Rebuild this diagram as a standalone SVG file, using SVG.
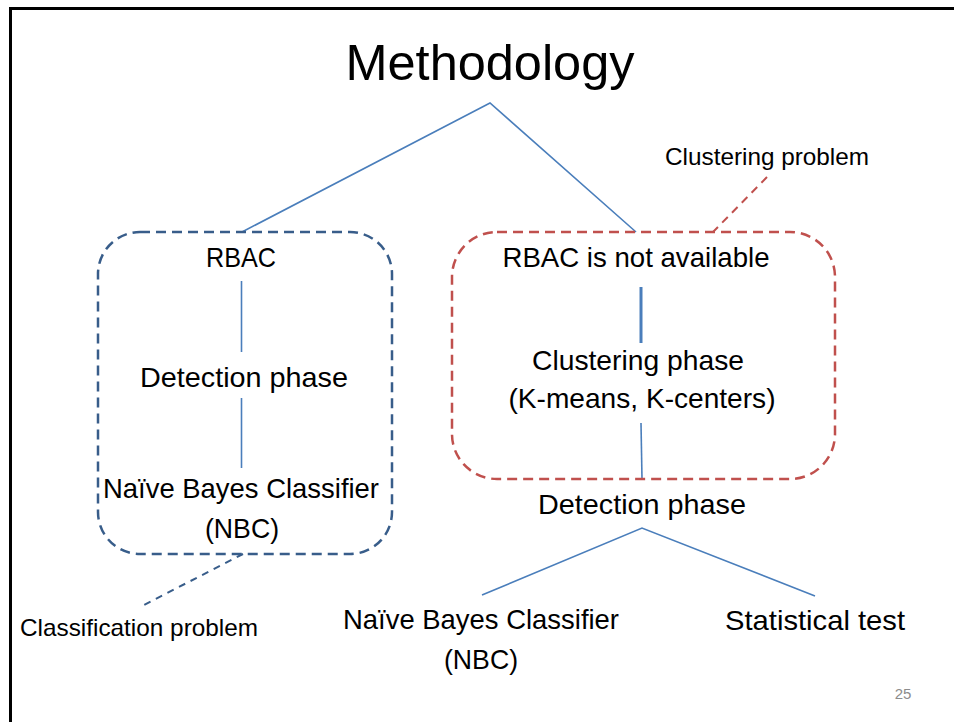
<svg xmlns="http://www.w3.org/2000/svg" width="954" height="722" viewBox="0 0 954 722">
<style>
text{font-family:"Liberation Sans",Arial,sans-serif;fill:#000;text-anchor:middle}
.m{font-size:28px}
.s{font-size:24px}
.conn{stroke:#4a7ebb;stroke-width:1.6;fill:none}
.blue{stroke:#385d8a;stroke-width:2.5;fill:none;stroke-dasharray:10 6}
.red{stroke:#c0504d;stroke-width:2.5;fill:none;stroke-dasharray:10 6}
</style>
<rect width="954" height="722" fill="#fff"/>
<g id="frame" stroke="#000" stroke-width="3">
<line x1="9" y1="8.5" x2="954" y2="8.5"/>
<line x1="10.5" y1="8" x2="10.5" y2="722"/>
</g>
<g id="title"><text x="490" y="80" style="font-size:50px" textLength="289" lengthAdjust="spacingAndGlyphs">Methodology</text></g>
<g id="connectors">
<polyline class="conn" points="242,232 490,103 636,232"/>
<line class="conn" x1="241.5" y1="281" x2="241.5" y2="352"/>
<line class="conn" x1="241.5" y1="398" x2="241.5" y2="468"/>
<line class="conn" x1="641" y1="287" x2="641" y2="343" style="stroke-width:3"/>
<line class="conn" x1="641" y1="423" x2="642" y2="479"/>
<polyline class="conn" points="482,595 642,528 815,596"/>
<line class="red" x1="767" y1="177" x2="713" y2="232" style="stroke-width:2;stroke-dasharray:8 6"/>
<line class="blue" x1="243" y1="554" x2="140" y2="607" style="stroke-width:2;stroke-dasharray:7 6"/>
</g>
<g id="rbac-box"><rect class="blue" x="98" y="232" width="294" height="322" rx="42" ry="42"/></g>
<g id="no-rbac-box"><rect class="red" x="452" y="232" width="383" height="247" rx="45" ry="45"/></g>
<g id="rbac"><text class="m" x="241" y="267" textLength="70" lengthAdjust="spacingAndGlyphs">RBAC</text></g>
<g id="detection-left"><text class="m" x="244" y="387" textLength="208" lengthAdjust="spacingAndGlyphs">Detection phase</text></g>
<g id="nbc-left"><text class="m" x="241" y="498" textLength="276" lengthAdjust="spacingAndGlyphs">Naïve Bayes Classifier</text><text class="m" x="242" y="538" textLength="74" lengthAdjust="spacingAndGlyphs">(NBC)</text></g>
<g id="rbac-na"><text class="m" x="636" y="267" textLength="267" lengthAdjust="spacingAndGlyphs">RBAC is not available</text></g>
<g id="clustering-phase"><text class="m" x="638" y="370" textLength="212" lengthAdjust="spacingAndGlyphs">Clustering phase</text><text class="m" x="642" y="408" textLength="267" lengthAdjust="spacingAndGlyphs">(K-means, K-centers)</text></g>
<g id="detection-right"><text class="m" x="642" y="514" textLength="208" lengthAdjust="spacingAndGlyphs">Detection phase</text></g>
<g id="nbc-bottom"><text class="m" x="481" y="629" textLength="276" lengthAdjust="spacingAndGlyphs">Naïve Bayes Classifier</text><text class="m" x="481" y="669" textLength="74" lengthAdjust="spacingAndGlyphs">(NBC)</text></g>
<g id="stat-test"><text class="m" x="815" y="630" textLength="180" lengthAdjust="spacingAndGlyphs">Statistical test</text></g>
<g id="clustering-problem"><text class="s" x="767" y="165" textLength="204" lengthAdjust="spacingAndGlyphs">Clustering problem</text></g>
<g id="classification-problem"><text class="s" x="139" y="636" textLength="238" lengthAdjust="spacingAndGlyphs">Classification problem</text></g>
<g id="page-number"><text x="903" y="699" style="font-size:15px;fill:#8c8c8c">25</text></g>
</svg>
